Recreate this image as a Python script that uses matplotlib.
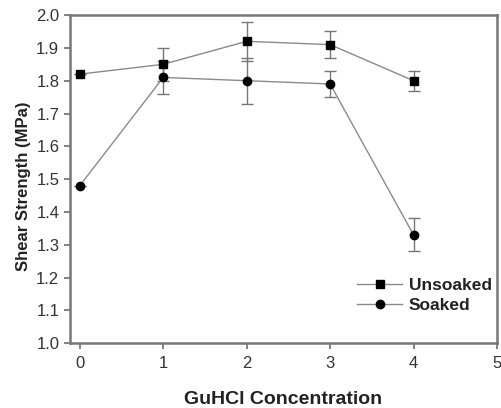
import matplotlib
matplotlib.use("Agg")
import matplotlib.pyplot as plt
from matplotlib.lines import Line2D

# data
conc = [0, 1, 2, 3, 4]
unsoaked = [1.82, 1.85, 1.92, 1.91, 1.80]
unsoaked_err = [0.0, 0.05, 0.06, 0.04, 0.03]
soaked = [1.48, 1.81, 1.80, 1.79, 1.33]
soaked_err = [0.0, 0.05, 0.07, 0.04, 0.05]
yticks = [1.0, 1.1, 1.2, 1.3, 1.4, 1.5, 1.6, 1.7, 1.8, 1.9, 2.0]
xticks = [0, 1, 2, 3, 4, 5]

plt.rcParams["font.family"] = ["Liberation Sans", "DejaVu Sans"]

fig = plt.figure(figsize=(5.02, 4.08), dpi=100)
ax = fig.add_axes([0.139, 0.159, 0.851, 0.804])

line_c = "#8a8a8a"
ax.errorbar(conc, unsoaked, yerr=unsoaked_err, fmt="-s", color=line_c, lw=1,
            mfc="black", mec="black", ms=5.2, ecolor="#777777", elinewidth=1,
            capsize=4, capthick=1)
ax.errorbar(conc, soaked, yerr=soaked_err, fmt="-o", color=line_c, lw=1,
            mfc="black", mec="black", ms=6, ecolor="#777777", elinewidth=1,
            capsize=4, capthick=1)

ax.set_xlim(-0.12, 5.0)
ax.set_ylim(1.0, 2.0)
ax.set_xticks(xticks)
ax.set_yticks(yticks)
ax.set_yticklabels([f"{v:.1f}" for v in yticks])

for s in ax.spines.values():
    s.set_color("#777777")
    s.set_linewidth(1.8)
ax.tick_params(direction="out", length=4, width=1.3, color="#777777",
               labelsize=12, labelcolor="#333333")
ax.tick_params(axis="x", pad=5)

ax.set_xlabel("GuHCl Concentration", fontsize=14, fontweight="bold",
              color="#222222", labelpad=15)
ax.set_ylabel("Shear Strength (MPa)", fontsize=12, fontweight="bold",
              color="#222222")
ax.yaxis.set_label_coords(-0.09, 0.479)

handles = [
    Line2D([], [], color=line_c, lw=1, marker="s", ms=5.2, mfc="black", mec="black"),
    Line2D([], [], color=line_c, lw=1, marker="o", ms=6, mfc="black", mec="black"),
]
leg = ax.legend(handles, ["Unsoaked", "Soaked"], loc="lower right",
                bbox_to_anchor=(1.025, 0.045), frameon=False,
                prop={"weight": "bold", "size": 12.5},
                handlelength=2.6, handletextpad=0.4, labelspacing=0.25)
for t in leg.get_texts():
    t.set_color("#222222")

fig.savefig("out.png", dpi=100)
